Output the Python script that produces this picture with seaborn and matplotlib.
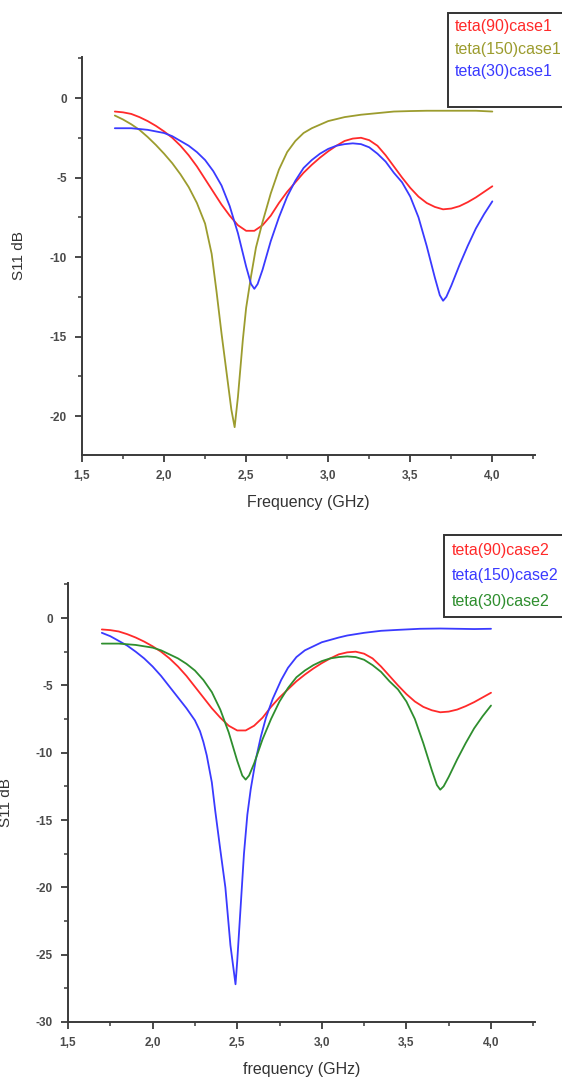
import matplotlib
matplotlib.use("Agg")
import matplotlib.pyplot as plt
import pandas as pd
import seaborn as sns
from matplotlib.ticker import MultipleLocator, FuncFormatter

# ---------------- data ----------------
# teta(90) – identical in case1 and case2
freq_t90 = [1.70, 1.75, 1.80, 1.85, 1.90, 1.95, 2.00, 2.05, 2.10, 2.15, 2.20, 2.25,
            2.30, 2.35, 2.40, 2.45, 2.50, 2.55, 2.60, 2.65, 2.70, 2.75, 2.80, 2.85,
            2.90, 2.95, 3.00, 3.05, 3.10, 3.15, 3.20, 3.25, 3.30, 3.35, 3.40, 3.45,
            3.50, 3.55, 3.60, 3.65, 3.70, 3.75, 3.80, 3.85, 3.90, 3.95, 4.00]
s11_t90 = [-0.85, -0.90, -1.00, -1.20, -1.45, -1.75, -2.10, -2.50, -3.00, -3.60, -4.30, -5.10,
           -5.90, -6.70, -7.40, -8.00, -8.35, -8.35, -8.00, -7.40, -6.60, -5.90, -5.30, -4.70,
           -4.20, -3.75, -3.35, -3.00, -2.70, -2.55, -2.50, -2.65, -3.00, -3.60, -4.30, -5.00,
           -5.65, -6.20, -6.60, -6.85, -7.00, -6.95, -6.80, -6.55, -6.25, -5.90, -5.55]

# teta(30) – identical in case1 and case2
freq_t30 = [1.70, 1.75, 1.80, 1.85, 1.90, 1.95, 2.00, 2.05, 2.10, 2.15, 2.20, 2.25,
            2.30, 2.35, 2.40, 2.45, 2.50, 2.53, 2.55, 2.57, 2.60, 2.65, 2.70, 2.75, 2.80, 2.85,
            2.90, 2.95, 3.00, 3.05, 3.10, 3.15, 3.20, 3.25, 3.30, 3.35, 3.40, 3.45,
            3.50, 3.55, 3.60, 3.65, 3.68, 3.70, 3.72, 3.75, 3.80, 3.85, 3.90, 3.95, 4.00]
s11_t30 = [-1.90, -1.90, -1.90, -1.95, -2.00, -2.10, -2.20, -2.40, -2.70, -3.00, -3.40, -3.90,
           -4.60, -5.50, -6.80, -8.50, -10.60, -11.70, -12.00, -11.70, -10.80, -9.00, -7.50, -6.20, -5.20, -4.40,
           -3.90, -3.50, -3.20, -3.00, -2.90, -2.85, -2.90, -3.10, -3.50, -4.00, -4.70, -5.30,
           -6.20, -7.50, -9.30, -11.30, -12.40, -12.75, -12.50, -11.80, -10.50, -9.30, -8.20, -7.30, -6.50]

# teta(150) case1
freq_t150_c1 = [1.70, 1.75, 1.80, 1.85, 1.90, 1.95, 2.00, 2.05, 2.10, 2.15, 2.20, 2.25,
                2.29, 2.32, 2.35, 2.38, 2.41, 2.43, 2.45, 2.48, 2.50, 2.53, 2.56, 2.60,
                2.65, 2.70, 2.75, 2.80, 2.85, 2.90, 3.00, 3.10, 3.20, 3.30, 3.40, 3.50,
                3.60, 3.70, 3.80, 3.90, 4.00]
s11_t150_c1 = [-1.10, -1.35, -1.65, -2.00, -2.45, -2.95, -3.50, -4.10, -4.80, -5.60, -6.60, -7.90,
               -9.80, -12.20, -14.80, -17.20, -19.60, -20.70, -18.80, -15.20, -13.20, -11.20, -9.40, -7.80,
               -6.00, -4.50, -3.40, -2.70, -2.20, -1.90, -1.45, -1.20, -1.05, -0.95, -0.85, -0.82,
               -0.80, -0.80, -0.80, -0.80, -0.85]

# teta(150) case2
freq_t150_c2 = [1.70, 1.75, 1.80, 1.85, 1.90, 1.95, 2.00, 2.05, 2.10, 2.15, 2.20, 2.25,
                2.28, 2.30, 2.32, 2.35, 2.37, 2.40, 2.43, 2.46, 2.49, 2.50, 2.52, 2.54, 2.56,
                2.58, 2.61, 2.64, 2.67, 2.71, 2.76, 2.80, 2.85, 2.90, 2.95, 3.00, 3.10,
                3.15, 3.25, 3.35, 3.45, 3.58, 3.70, 3.80, 3.90, 4.00]
s11_t150_c2 = [-1.10, -1.35, -1.70, -2.05, -2.50, -3.00, -3.60, -4.30, -5.10, -5.90, -6.70, -7.60,
               -8.40, -9.20, -10.20, -12.20, -14.30, -17.20, -20.00, -24.30, -27.20, -25.50, -21.50, -17.50, -14.60,
               -12.70, -10.50, -8.80, -7.40, -6.00, -4.60, -3.70, -2.90, -2.40, -2.10, -1.80, -1.45,
               -1.30, -1.10, -0.95, -0.88, -0.80, -0.78, -0.80, -0.82, -0.80]

labels_case1 = ["teta(90)case1", "teta(150)case1", "teta(30)case1"]
labels_case2 = ["teta(90)case2", "teta(150)case2", "teta(30)case2"]

RED, OLIVE, BLUE, GREEN = "#ff2a2a", "#9c9c2e", "#3a3aff", "#2e8e2e"


def long_frame(series):
    rows = []
    for name, fr, vals in series:
        for f, v in zip(fr, vals):
            rows.append({"freq": f, "s11": v, "series": name})
    return pd.DataFrame(rows)


df1 = long_frame([(labels_case1[0], freq_t90, s11_t90),
                  (labels_case1[1], freq_t150_c1, s11_t150_c1),
                  (labels_case1[2], freq_t30, s11_t30)])
df2 = long_frame([(labels_case2[0], freq_t90, s11_t90),
                  (labels_case2[1], freq_t150_c2, s11_t150_c2),
                  (labels_case2[2], freq_t30, s11_t30)])
pal1 = {labels_case1[0]: RED, labels_case1[1]: OLIVE, labels_case1[2]: BLUE}
pal2 = {labels_case2[0]: RED, labels_case2[1]: BLUE, labels_case2[2]: GREEN}

# ---------------- style ----------------
sns.set_style("ticks")
plt.rcParams["font.family"] = ["Liberation Sans", "DejaVu Sans"]
plt.rcParams["axes.unicode_minus"] = False

W, H = 562, 1087
fig = plt.figure(figsize=(W / 100, H / 100), dpi=100)
ax1 = fig.add_axes([82 / W, 1 - 455 / H, 453 / W, 398 / H])
ax2 = fig.add_axes([68 / W, 1 - 1022 / H, 467 / W, 439 / H])

comma = FuncFormatter(lambda v, p: f"{v:.1f}".replace(".", ","))
TICKC = "#4a4a4a"
SPINEC = "#3a3a3a"


def style_axes(ax, ylim, xlabel, ylabel, ylab_x):
    ax.set_xlim(1.5, 4.26)
    ax.set_ylim(*ylim)
    ax.xaxis.set_major_locator(MultipleLocator(0.5))
    ax.xaxis.set_minor_locator(MultipleLocator(0.25))
    ax.yaxis.set_major_locator(MultipleLocator(5))
    ax.yaxis.set_minor_locator(MultipleLocator(2.5))
    ax.xaxis.set_major_formatter(comma)
    ax.yaxis.set_major_formatter(FuncFormatter(lambda v, p: f"{v:.0f}"))
    for s in ["top", "right"]:
        ax.spines[s].set_visible(False)
    for s in ["left", "bottom"]:
        ax.spines[s].set_linewidth(1.4)
        ax.spines[s].set_color(SPINEC)
    ax.tick_params(which="major", direction="out", length=5, width=1.3,
                   color=SPINEC, labelsize=8.5, labelcolor=TICKC, pad=6)
    ax.tick_params(which="minor", direction="out", length=3, width=1.1, color=SPINEC)
    ax.set_xlabel(xlabel, fontsize=11.5, color="#333333", labelpad=9)
    ax.set_ylabel(ylabel, fontsize=11, color="#333333")
    ax.yaxis.set_label_coords(ylab_x, 0.5)
    for lab in ax.get_xticklabels() + ax.get_yticklabels():
        lab.set_fontweight("bold")


def text_legend(ax, labels, colors, anchor, extra_row, spacing, bpad):
    handles = [plt.Line2D([], [], color="none") for _ in labels]
    labs = list(labels)
    if extra_row:
        handles.append(plt.Line2D([], [], color="none"))
        labs.append(" ")
    leg = ax.legend(handles, labs, loc="upper left", bbox_to_anchor=anchor,
                    bbox_transform=fig.transFigure, handlelength=0, handletextpad=0,
                    frameon=True, fancybox=False, framealpha=1, fontsize=11.5,
                    borderpad=bpad, labelspacing=spacing, borderaxespad=0)
    leg.get_frame().set_edgecolor("#333333")
    leg.get_frame().set_linewidth(1.4)
    for t, c in zip(leg.get_texts(), colors):
        t.set_color(c)
    return leg


# ---------------- top panel ----------------
sns.lineplot(data=df1, x="freq", y="s11", hue="series", palette=pal1, sort=False,
             estimator=None, legend=False, linewidth=1.3, ax=ax1)
style_axes(ax1, (-22.45, 2.58), "Frequency (GHz)", "S11 dB", -0.124)
text_legend(ax1, labels_case1, [RED, OLIVE, BLUE], (448 / W, 1 - 13 / H), True, 0.45, 0.4)

# ---------------- bottom panel ----------------
sns.lineplot(data=df2, x="freq", y="s11", hue="series", palette=pal2, sort=False,
             estimator=None, legend=False, linewidth=1.3, ax=ax2)
style_axes(ax2, (-30, 2.6), "frequency (GHz)", "S11 dB", -0.118)
text_legend(ax2, labels_case2, [RED, BLUE, GREEN], (444 / W, 1 - 535 / H), False, 0.65, 0.5)

fig.savefig("out.png", dpi=100)
